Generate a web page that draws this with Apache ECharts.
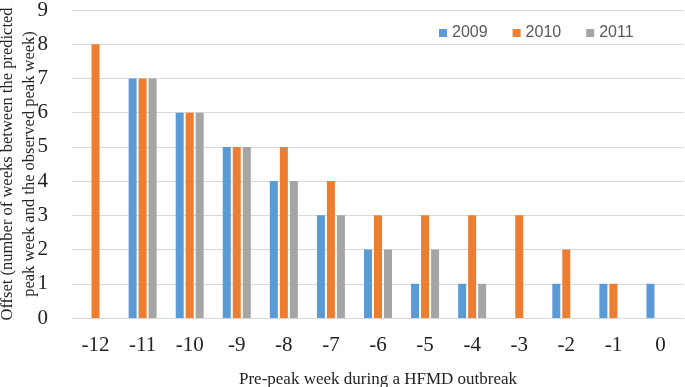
<!DOCTYPE html>
<html>
<head>
<meta charset="utf-8">
<script src="https://cdn.jsdelivr.net/npm/echarts@6/dist/echarts.min.js"></script>
<style>
  html, body { margin: 0; padding: 0; background: #fff; }
  #chart { width: 685px; height: 387px; }
</style>
</head>
<body>
<div id="chart"></div>
<script>
var weeks = ['-12', '-11', '-10', '-9', '-8', '-7', '-6', '-5', '-4', '-3', '-2', '-1', '0'];
var y2009 = [0, 7, 6, 5, 4, 3, 2, 1, 1, 0, 1, 1, 1];
var y2010 = [8, 7, 6, 5, 5, 4, 3, 3, 3, 3, 2, 1, 0];
var y2011 = [0, 7, 6, 5, 4, 3, 2, 2, 1, 0, 0, 0, 0];

var chart = echarts.init(document.getElementById('chart'));

var serif = '"Liberation Serif", "DejaVu Serif", serif';

function barSeries(name, data, color) {
    return {
        name: name,
        type: 'bar',
        data: data,
        barWidth: 8,
        barGap: '25%',
        itemStyle: { color: color }
    };
}

var option = {
    animation: false,
    legend: {
        data: ['2009', '2010', '2011'],
        left: 434,
        top: 20,
        icon: 'rect',
        itemWidth: 8,
        itemHeight: 8,
        itemGap: 25,
        textStyle: {
            fontFamily: '"Liberation Sans", Arial, sans-serif',
            fontSize: 16,
            color: '#595959'
        }
    },
    grid: {
        left: 72,
        right: 1,
        top: 10,
        bottom: 69,
        containLabel: false,
        outerBoundsMode: 'none'
    },
    xAxis: {
        type: 'category',
        data: weeks,
        name: 'Pre-peak week during a HFMD outbreak',
        nameLocation: 'middle',
        nameGap: 53,
        nameTextStyle: { fontFamily: serif, fontSize: 17, color: '#222' },
        axisLine: { show: true, lineStyle: { color: '#d9d9d9' } },
        axisTick: { show: false },
        axisLabel: { fontFamily: serif, fontSize: 21, color: '#222', margin: 17 }
    },
    yAxis: {
        type: 'value',
        min: 0,
        max: 9,
        interval: 1,
        name: 'Offset (number of weeks between the predicted\npeak week and the observed peak week)',
        nameLocation: 'middle',
        nameGap: 31,
        nameMoveOverlap: false,
        nameTextStyle: { fontFamily: serif, fontSize: 16.5, color: '#222', lineHeight: 22 },
        axisLine: { show: false },
        axisTick: { show: false },
        axisLabel: { fontFamily: serif, fontSize: 21, color: '#222', margin: 24 },
        splitLine: { lineStyle: { color: '#d9d9d9' } }
    },
    series: [
        barSeries('2009', y2009, '#5b9bd5'),
        barSeries('2010', y2010, '#ed7d31'),
        barSeries('2011', y2011, '#a5a5a5')
    ]
};

chart.setOption(option);
</script>
</body>
</html>
